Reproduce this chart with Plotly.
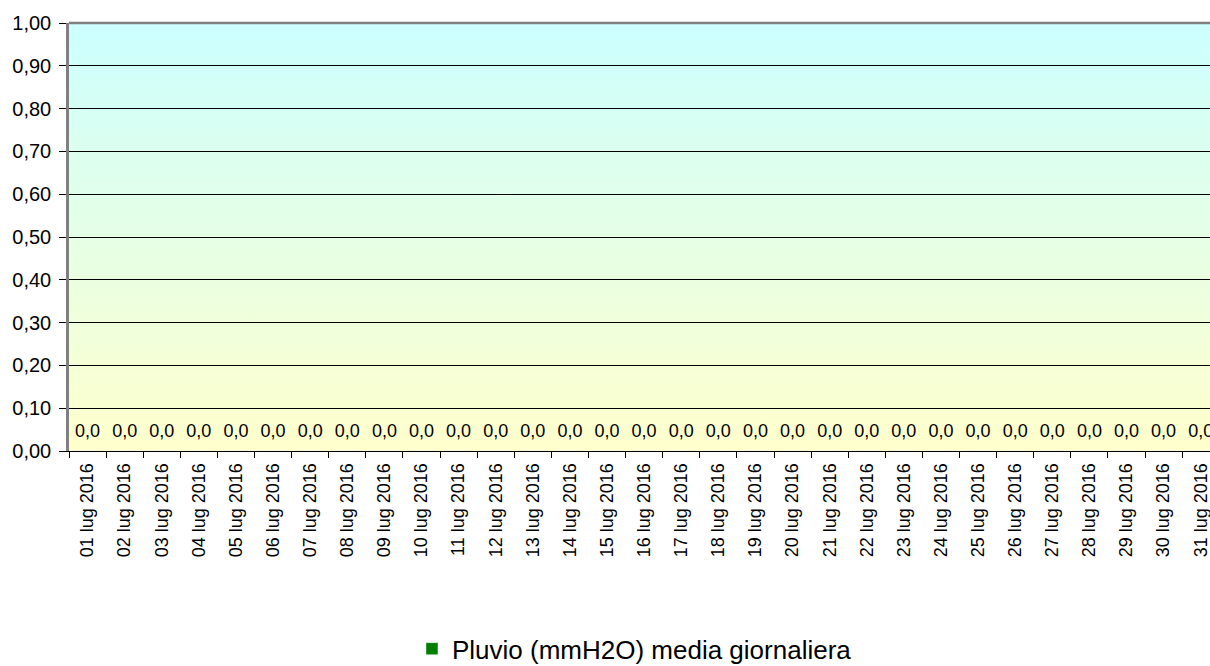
import plotly.graph_objects as go

days = [f"{d:02d} lug 2016" for d in range(1, 32)]
pluvio = [0.0] * 31
labels = ["0,0"] * 31
series_name = "Pluvio (mmH2O) media giornaliera"
y_ticks = [0.0, 0.1, 0.2, 0.3, 0.4, 0.5, 0.6, 0.7, 0.8, 0.9, 1.0]

FONT = "Liberation Sans, Arial, sans-serif"

svg = ("data:image/svg+xml;utf8,<svg xmlns='http://www.w3.org/2000/svg' width='100' height='100' preserveAspectRatio='none'>"
       "<defs><linearGradient id='g' x1='0' y1='0' x2='0' y2='1'>"
       "<stop offset='0' stop-color='%23CCFFFF'/><stop offset='1' stop-color='%23FFFFCC'/>"
       "</linearGradient></defs><rect width='100' height='100' fill='url(%23g)'/></svg>")

fig = go.Figure()
fig.add_trace(go.Bar(x=days, y=pluvio, name=series_name, marker_color="#008000",
                     showlegend=True))
fig.add_trace(go.Scatter(x=days, y=pluvio, mode="markers+text", text=labels,
                         textposition="top center",
                         marker=dict(size=14, color="rgba(0,0,0,0)"),
                         textfont=dict(size=18, color="#000000", family=FONT),
                         showlegend=False, hoverinfo="skip", cliponaxis=True))

fig.add_layout_image(dict(source=svg, xref="paper", yref="paper", x=0, y=1,
                          sizex=1, sizey=1, sizing="stretch", layer="below",
                          xanchor="left", yanchor="top"))
fig.add_shape(type="line", xref="paper", yref="paper", x0=0, x1=1, y0=1, y1=1,
              line=dict(color="#808080", width=2.5))

fig.update_layout(
    width=1210, height=666,
    margin=dict(l=69, r=0, t=23, b=215, autoexpand=False),
    paper_bgcolor="white", plot_bgcolor="rgba(0,0,0,0)",
    separators=",.",
    font=dict(family=FONT, color="#000000"),
    showlegend=True,
    legend=dict(orientation="h", x=0.4956, xanchor="center", y=-0.462, yanchor="middle",
                font=dict(size=26, family=FONT), itemwidth=30, bgcolor="rgba(0,0,0,0)"),
    xaxis=dict(type="category", range=[-0.5, 30.25], tickangle=-90,
               tickfont=dict(size=18, family=FONT), ticks="outside", ticklen=6,
               ticklabelstandoff=4, automargin=False,
               tickcolor="#000000", tickson="boundaries", showgrid=False,
               showline=True, linecolor="#000000", linewidth=1, fixedrange=True),
    yaxis=dict(range=[0, 1], tickvals=y_ticks, tickformat=".2f", automargin=False,
               tickfont=dict(size=20, family=FONT), ticks="outside", ticklen=7,
               ticklabelstandoff=4,
               tickcolor="#000000", showgrid=True, gridcolor="#000000", gridwidth=1,
               showline=True, linecolor="#808080", linewidth=2.5, zeroline=False,
               fixedrange=True),
)

fig.write_html("out.html", config={"displayModeBar": False},
               post_script="document.body.style.margin='0';")
